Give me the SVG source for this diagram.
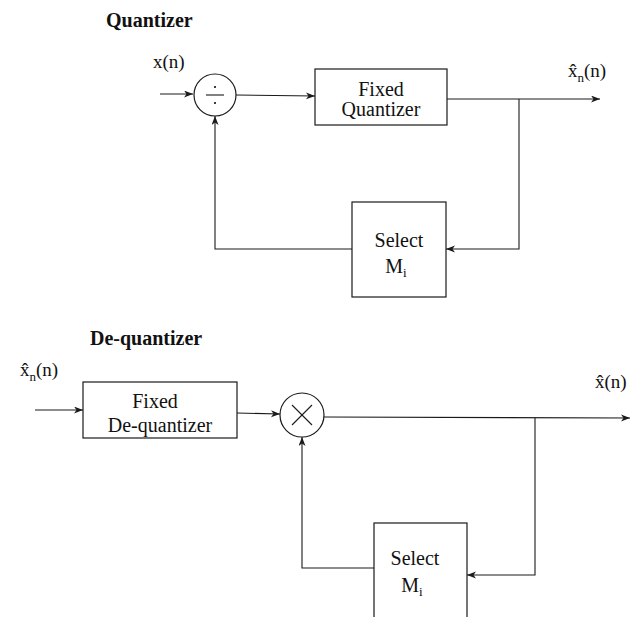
<svg xmlns="http://www.w3.org/2000/svg" width="637" height="617" viewBox="0 0 637 617">
<defs>
<style>
.ln{fill:none;stroke:#1a1a1a;stroke-width:1.1}
.bx{fill:#fff;stroke:#1a1a1a;stroke-width:1.2}
.t{font-family:"Liberation Serif","Times New Roman",serif;font-size:20px;fill:#111}
.l{font-family:"Liberation Serif","Times New Roman",serif;font-size:19px;fill:#111}
.c{text-anchor:middle}
.h{font-family:"Liberation Serif","Times New Roman",serif;font-size:20px;font-weight:bold;fill:#111}
.s{font-size:13px}
</style>
<marker id="ah" markerWidth="10" markerHeight="8" refX="9" refY="3.5" orient="auto" markerUnits="userSpaceOnUse">
<path d="M0,0 L9,3.5 L0,7 L2.5,3.5 z" fill="#1a1a1a"/>
</marker>
</defs>
<rect width="637" height="617" fill="#fff"/>

<text class="h" x="106" y="27">Quantizer</text>
<text class="h" x="90" y="345">De-quantizer</text>

<g id="labels">
<text class="l" x="153" y="68">x(n)</text>
<text class="l" x="568" y="77">x̂<tspan class="s" dy="5">n</tspan><tspan dy="-5">(n)</tspan></text>
<text class="l" x="20" y="376">x̂<tspan class="s" dy="5">n</tspan><tspan dy="-5">(n)</tspan></text>
<text class="l" x="595" y="388">x̂(n)</text>
</g>

<g id="connectors">
<line class="ln" x1="160" y1="94" x2="193" y2="94" marker-end="url(#ah)"/>
<line class="ln" x1="236" y1="95" x2="315" y2="96" marker-end="url(#ah)"/>
<polyline class="ln" points="447,99 600,99" marker-end="url(#ah)"/>
<polyline class="ln" points="519,99 519,249 446,249" marker-end="url(#ah)"/>
<polyline class="ln" points="352,249 215,249 215,116" marker-end="url(#ah)"/>

<line class="ln" x1="35" y1="410" x2="83" y2="410" marker-end="url(#ah)"/>
<line class="ln" x1="237" y1="413" x2="280" y2="414" marker-end="url(#ah)"/>
<polyline class="ln" points="324,417 630,418" marker-end="url(#ah)"/>
<polyline class="ln" points="535,418 535,575 467,575" marker-end="url(#ah)"/>
<polyline class="ln" points="374,568 302,568 302,437" marker-end="url(#ah)"/>
</g>

<g id="div">
<circle class="bx" cx="215" cy="95" r="21"/>
<line class="ln" x1="206" y1="95" x2="224" y2="95"/>
<circle cx="215" cy="87" r="1.1" fill="#111"/>
<circle cx="215" cy="103" r="1.1" fill="#111"/>
</g>

<g id="fixed-quantizer">
<rect class="bx" x="315" y="69" width="132" height="56"/>
<text class="t c" x="381" y="96">Fixed</text>
<text class="t c" x="381" y="116">Quantizer</text>
</g>

<g id="select-1">
<rect class="bx" x="352" y="202" width="94" height="95"/>
<text class="t c" x="399" y="247">Select</text>
<text class="t c" x="396" y="273">M<tspan class="s" dy="4">i</tspan></text>
</g>

<g id="fixed-dequantizer">
<rect class="bx" x="83" y="382" width="154" height="56"/>
<text class="t c" x="155" y="408">Fixed</text>
<text class="t c" x="160" y="432">De-quantizer</text>
</g>

<g id="mult">
<circle class="bx" cx="302" cy="415" r="22"/>
<line class="ln" x1="292" y1="405" x2="312" y2="425"/>
<line class="ln" x1="312" y1="405" x2="292" y2="425"/>
</g>

<g id="select-2">
<rect class="bx" x="374" y="523" width="93" height="110"/>
<text class="t c" x="415" y="565">Select</text>
<text class="t c" x="412" y="592">M<tspan class="s" dy="4">i</tspan></text>
</g>
</svg>
